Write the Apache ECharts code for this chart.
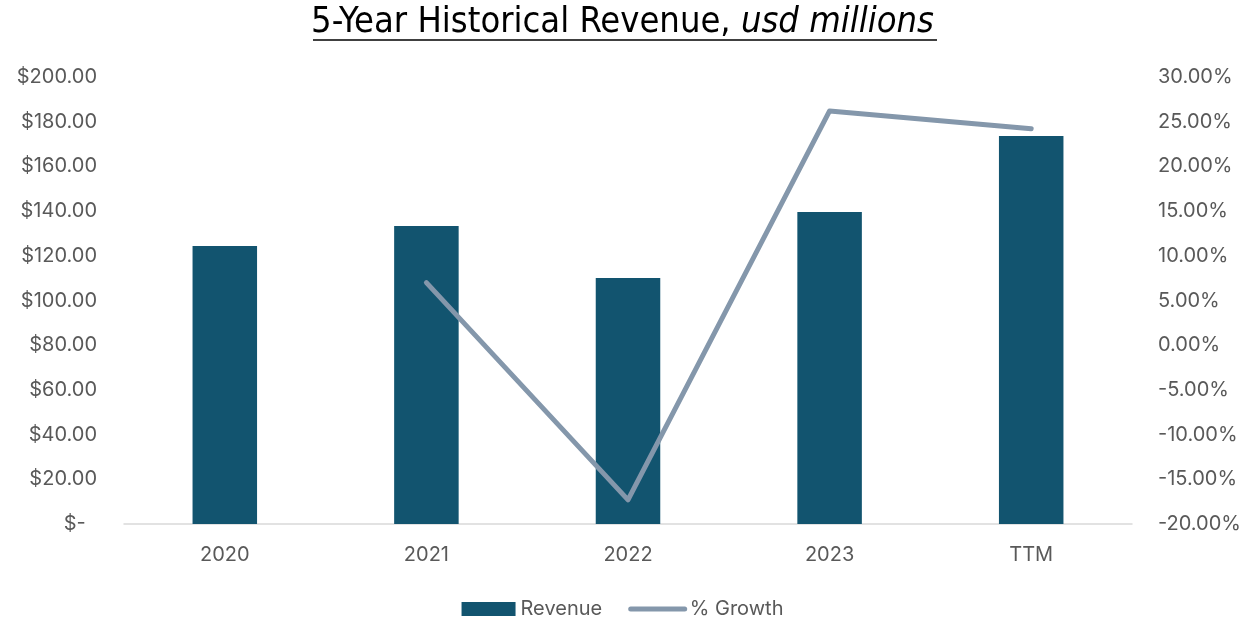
<!DOCTYPE html>
<html>
<head>
<meta charset="utf-8">
<title>5-Year Historical Revenue</title>
<script src="https://cdn.jsdelivr.net/npm/echarts@6/dist/echarts.min.js"></script>
<style>
  html, body { margin: 0; padding: 0; background: #ffffff; }
  #chart { width: 1245px; height: 619px; }
</style>
</head>
<body>
<div id="chart"></div>
<script>
// Fiscal periods on the category axis
const periods = ['2020', '2021', '2022', '2023', 'TTM'];
// Revenue in USD millions
const revenue = [124.4, 133.3, 110.1, 139.6, 173.6];
// Year-over-year growth in percent (no prior year for 2020)
const growth = [null, 7.0, -17.3, 26.2, 24.2];

const textColor = '#595959';
const fontFamily = 'Inter, "Open Sans", "Noto Sans", sans-serif';
const titleFont = '"Liberation Sans Narrow", "DejaVu Sans Condensed", Roboto, sans-serif';

const chart = echarts.init(document.getElementById('chart'), null, { renderer: 'canvas' });

chart.setOption({
  backgroundColor: '#ffffff',
  animation: false,
  title: {
    text: '{n|5-Year Historical Revenue, }{i|usd millions}',
    left: 'center',
    top: 0,
    textStyle: {
      fontWeight: 'normal',
      rich: {
        n: { fontFamily: titleFont, fontSize: 36, fontWeight: 'normal', color: '#000000' },
        i: { fontFamily: titleFont, fontSize: 36, fontWeight: 'normal', fontStyle: 'italic', color: '#000000' }
      }
    }
  },
  graphic: [{
    // underline below the title
    type: 'line',
    shape: { x1: 313, y1: 40, x2: 937, y2: 40 },
    style: { stroke: '#000000', lineWidth: 1.5 }
  }],
  legend: {
    top: 594,
    left: 'center',
    itemWidth: 54,
    itemHeight: 14,
    itemGap: 26,
    textStyle: { color: textColor, fontSize: 20, fontFamily: fontFamily },
    data: [
      { name: 'Revenue', icon: 'rect' },
      {
        name: '% Growth',
        itemStyle: { opacity: 0 },
        lineStyle: { width: 5, cap: 'round', color: '#8497AB' }
      }
    ]
  },
  grid: { left: 124, right: 113, top: 77, bottom: 95, containLabel: false },
  xAxis: {
    type: 'category',
    data: periods,
    axisLine: { lineStyle: { color: '#D9D9D9', width: 1.5 } },
    axisTick: { show: false },
    axisLabel: { color: textColor, fontSize: 20, fontFamily: fontFamily, margin: 21 }
  },
  yAxis: [
    {
      type: 'value',
      min: 0,
      max: 200,
      interval: 20,
      splitLine: { show: false },
      axisLine: { show: false },
      axisTick: { show: false },
      axisLabel: {
        color: textColor, fontSize: 20, fontFamily: fontFamily, margin: 27,
        formatter: v => v === 0 ? '$-  ' : '$' + v.toFixed(2)
      }
    },
    {
      type: 'value',
      min: -20,
      max: 30,
      interval: 5,
      splitLine: { show: false },
      axisLine: { show: false },
      axisTick: { show: false },
      axisLabel: {
        color: textColor, fontSize: 20, fontFamily: fontFamily, margin: 26,
        formatter: v => v.toFixed(2) + '%'
      }
    }
  ],
  series: [
    {
      name: 'Revenue',
      type: 'bar',
      data: revenue,
      barWidth: '32%',
      itemStyle: { color: '#12546F' }
    },
    {
      name: '% Growth',
      type: 'line',
      yAxisIndex: 1,
      data: growth,
      symbol: 'none',
      connectNulls: false,
      lineStyle: { color: '#8497AB', width: 5, cap: 'round', join: 'round' },
      itemStyle: { color: '#8497AB' }
    }
  ]
});
</script>
</body>
</html>
